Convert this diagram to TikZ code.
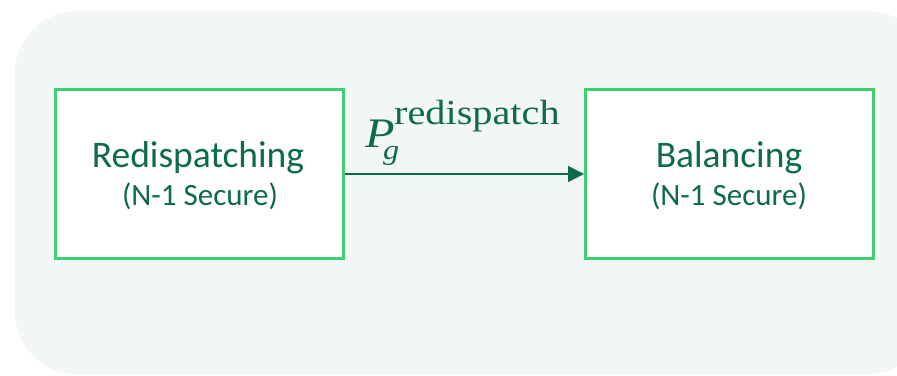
\documentclass[tikz,border=0pt]{standalone}
\usepackage{fontspec}
\setmainfont{Carlito}
\newfontfamily\eqfont[FakeStretch=1.15]{Liberation Serif}
\usetikzlibrary{arrows.meta}
\definecolor{panelfill}{HTML}{F2F6F5}
\definecolor{boxgreen}{HTML}{40CF70}
\definecolor{inkgreen}{HTML}{0D6B48}
\tikzset{
  stagebox/.style={draw=boxgreen, line width=3pt, fill=white, inner sep=0pt},
  titletxt/.style={text=inkgreen, inner sep=0pt, anchor=base, font=\fontsize{37.5}{40}\selectfont},
  subtxt/.style={text=inkgreen, inner sep=0pt, anchor=base, font=\fontsize{31}{34}\selectfont},
  eqtxt/.style={text=inkgreen, inner sep=0pt, anchor=base west},
  flow/.style={draw=inkgreen, line width=1.5pt, -{Triangle[length=16pt,width=16pt]}}
}
\begin{document}
\begin{tikzpicture}[x=1pt,y=-1pt]
  \useasboundingbox (0,0) rectangle (897,375);
  \begin{scope}
    \clip (0,0) rectangle (897,375);
    \fill[panelfill, rounded corners=62pt] (15,11) rectangle (930,374);
  \end{scope}

  % market stages
  \node[stagebox, minimum width=288pt, minimum height=169pt] (redisp) at (199,174) {};
  \node[stagebox, minimum width=288pt, minimum height=169pt] (balance) at (729.5,174) {};

  \node[titletxt] (redispT) at (198,167) {Redispatching};
  \node[subtxt] (redispS) at (200,205) {(N-1 Secure)};
  \node[titletxt] (balanceT) at (729,167) {Balancing};
  \node[subtxt] (balanceS) at (729,205) {(N-1 Secure)};

  % redispatch quantities passed on to balancing
  \draw[flow] (redisp.east) -- (balance.west);
  \node[eqtxt, font=\eqfont\fontsize{42}{42}\selectfont\itshape] (pvar) at (365,147) {P};
  \node[eqtxt, font=\eqfont\fontsize{28}{28}\selectfont\itshape] (psub) at (383,159) {g};
  \node[eqtxt, font=\eqfont\fontsize{35}{35}\selectfont] (psup) at (394,124) {redispatch};
\end{tikzpicture}
\end{document}
